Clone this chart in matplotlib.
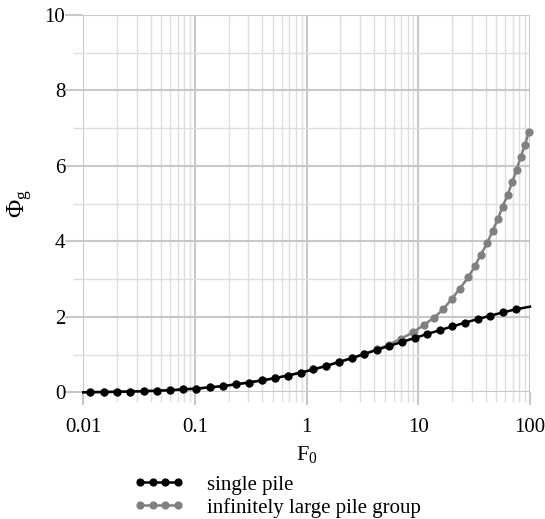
import matplotlib
matplotlib.use("Agg")
import matplotlib.pyplot as plt
import numpy as np
from matplotlib.lines import Line2D
from matplotlib.ticker import LogLocator, MultipleLocator, FixedLocator, FixedFormatter

plt.rcParams["font.family"] = ["Liberation Serif", "DejaVu Serif"]
plt.rcParams["mathtext.fontset"] = "custom"
plt.rcParams["mathtext.rm"] = "Liberation Serif"
plt.rcParams["mathtext.it"] = "Liberation Serif:italic"

# single pile: curve ends plus the marked points
f0_single = [0.01, 0.01148, 0.01531, 0.02004, 0.02636, 0.03475, 0.04571, 0.06012,
             0.07816, 0.1028, 0.1355, 0.1770, 0.2312, 0.3027, 0.3954, 0.5200,
             0.6761, 0.8830, 1.146, 1.489, 1.936, 2.529, 3.281, 4.236, 5.483,
             7.178, 9.268, 12.02, 15.52, 20.14, 26.12, 33.96, 44.06, 57.54,
             74.82, 100.0]
phi_single = [0.0, 0.004, 0.008, 0.014, 0.021, 0.030, 0.042, 0.057,
              0.076, 0.100, 0.130, 0.165, 0.210, 0.260, 0.315, 0.375,
              0.445, 0.520, 0.605, 0.700, 0.800, 0.905, 1.015, 1.125, 1.230,
              1.335, 1.440, 1.545, 1.645, 1.745, 1.845, 1.940, 2.030, 2.120,
              2.200, 2.270]

# infinitely large pile group: same as single pile at low F0, then rising
f0_group = [0.01, 0.01148, 0.01531, 0.02004, 0.02636, 0.03475, 0.04571, 0.06012,
            0.07816, 0.1028, 0.1355, 0.1770, 0.2312, 0.3027, 0.3954, 0.5200,
            0.6761, 0.8830, 1.146, 1.489, 1.936, 2.529, 3.281, 4.236, 5.47,
            7.01, 8.99, 11.22, 13.87, 16.71, 19.86, 23.55, 27.99, 32.14,
            36.31, 41.40, 46.24, 51.64, 56.89, 63.10, 69.34, 75.86, 82.41,
            89.95, 97.72, 100.0]
phi_group = [0.0, 0.004, 0.008, 0.014, 0.021, 0.030, 0.042, 0.057,
             0.076, 0.100, 0.130, 0.165, 0.210, 0.260, 0.315, 0.375,
             0.445, 0.520, 0.605, 0.700, 0.800, 0.905, 1.015, 1.135, 1.265,
             1.425, 1.590, 1.785, 1.980, 2.200, 2.470, 2.750, 3.050, 3.350,
             3.650, 3.960, 4.280, 4.600, 4.920, 5.240, 5.570, 5.900, 6.230,
             6.560, 6.900, 6.930]

x_ticks = [0.01, 0.1, 1, 10, 100]
x_tick_labels = ["0.01", "0.1", "1", "10", "100"]
y_ticks = [0, 2, 4, 6, 8, 10]
series_labels = ["single pile", "infinitely large pile group"]

major_col = "#c8c8c8"
minor_col = "#dedede"
grey = "#808080"

fig = plt.figure(figsize=(5.45, 5.19), dpi=100)
ax = fig.add_axes([0.1528, 0.2441, 0.8197, 0.7270])

ax.plot(f0_group, phi_group, color=grey, lw=1.8, marker="o", ms=4.9,
        markevery=list(range(1, len(f0_group) - 1)), clip_on=False, zorder=3)
ax.plot(f0_single, phi_single, color="black", lw=1.8, marker="o", ms=4.9,
        markevery=list(range(1, len(f0_single) - 1)), clip_on=False, zorder=4)

ax.set_xscale("log")
ax.set_xlim(0.01, 100)
ax.set_ylim(0, 10)
ax.xaxis.set_major_locator(FixedLocator(x_ticks))
ax.xaxis.set_major_formatter(FixedFormatter(x_tick_labels))
ax.xaxis.set_minor_locator(LogLocator(base=10, subs=np.arange(2, 10)))
ax.xaxis.set_minor_formatter(FixedFormatter([]))
ax.yaxis.set_major_locator(FixedLocator(y_ticks))
ax.yaxis.set_minor_locator(MultipleLocator(1))

ax.grid(which="major", color=major_col, lw=1.5)
ax.grid(which="minor", color=minor_col, lw=1.0)
ax.set_axisbelow(True)
for s in ax.spines.values():
    s.set_visible(False)

ax.tick_params(axis="y", which="major", length=13, width=1.5, color=major_col,
               pad=0, labelsize=15)
ax.tick_params(axis="y", which="minor", length=7.2, width=1.0, color=minor_col)
ax.tick_params(axis="x", which="major", length=9.4, width=1.5, color=major_col,
               pad=9, labelsize=15)
ax.tick_params(axis="x", which="minor", length=7.2, width=1.0, color=minor_col)

ax.set_xlabel(r"F$_\mathrm{0}$", fontsize=16, labelpad=5)
ax.set_ylabel(r"Φ$_\mathrm{g}$", fontsize=18, labelpad=7)

handles = [Line2D([], [], color="black", lw=1.8, marker="o", ms=4.9),
           Line2D([], [], color=grey, lw=1.8, marker="o", ms=4.9)]
fig.legend(handles, series_labels, loc="upper left",
           bbox_to_anchor=(134 / 545, 1 - 475 / 519), frameon=False,
           borderpad=0, borderaxespad=0, numpoints=4, handlelength=2.4,
           handletextpad=1.1, labelspacing=0.15, fontsize=15)

fig.savefig("out.png", dpi=100)
